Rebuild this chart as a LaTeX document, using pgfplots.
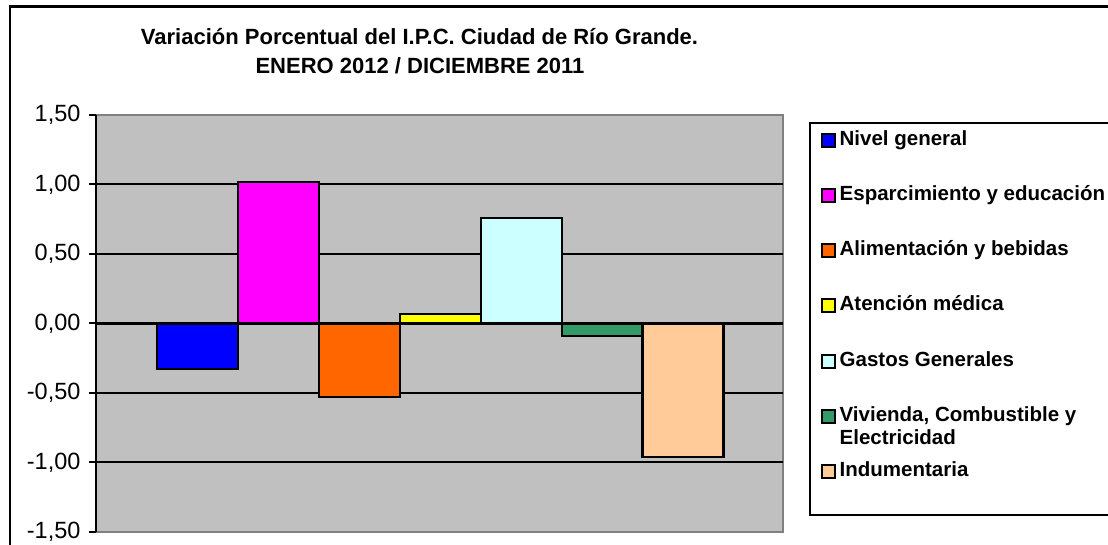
\documentclass[border=0pt]{standalone}
\usepackage{fontspec}
\setmainfont{Liberation Sans}
\usepackage{pgfplots}
\pgfplotsset{compat=1.18}
\definecolor{plotgray}{HTML}{C0C0C0}
\definecolor{edgegray}{HTML}{808080}
\definecolor{cA}{HTML}{0000FF}
\definecolor{cB}{HTML}{FF00FF}
\definecolor{cC}{HTML}{FF6600}
\definecolor{cD}{HTML}{FFFF00}
\definecolor{cE}{HTML}{CCFFFF}
\definecolor{cF}{HTML}{339966}
\definecolor{cG}{HTML}{FFCC99}
\pgfplotsset{
  mybar/.style={ybar, bar width=1, draw=black, line width=2.2bp,
    legend image code/.code={\draw[##1, draw=black, line width=2bp] (0bp,-6.5bp) rectangle (13bp,6.5bp);}},
}
\begin{document}
\begin{tikzpicture}
\useasboundingbox (0,0) rectangle (1108bp,545bp);
\clip (0,0) rectangle (1108bp,545bp);
\fill[white] (0,0) rectangle (1108bp,545bp);
\draw[line width=2.5bp] (10bp,538.5bp) rectangle (1200bp,-50bp);
\node[font=\bfseries\fontsize{22bp}{26bp}\selectfont, anchor=base] at (419.5bp,500bp) {Variación Porcentual del I.P.C. Ciudad de Río Grande.};
\node[font=\bfseries\fontsize{22bp}{26bp}\selectfont, anchor=base] at (420bp,471bp) {ENERO 2012 / DICIEMBRE 2011};
\draw[line width=2.2bp] (810bp,421.7bp) rectangle (1200bp,30.3bp);
\begin{axis}[
  at={(96bp,13bp)}, anchor=south west, scale only axis,
  width=687bp, height=417bp,
  xmin=-0.253, xmax=8.235, ymin=-1.5, ymax=1.5,
  axis x line=none, axis y line*=left,
  y axis line style={black, line width=2.2bp},
  axis background/.style={fill=plotgray, draw=edgegray, line width=2.2bp},
  ytick={-1.5,-1,-0.5,0,0.5,1,1.5},
  tick align=outside, major tick length=7bp,
  ytick style={black, line width=2bp},
  /pgf/number format/assume math mode=true,
  yticklabel style={/pgf/number format/.cd, fixed, fixed zerofill, precision=2, use comma, /tikz/.cd, font=\fontsize{23.5bp}{27bp}\selectfont, xshift=-5bp},
  extra y ticks={-1,-0.5,0.5,1},
  extra y tick labels={},
  extra y tick style={grid=major, major grid style={black, line width=2bp}},
  legend cell align=left,
  legend style={at={(axis description cs:1.0553,0.964)}, anchor=north west, draw=none, fill=none,
    inner sep=0pt, row sep=35.2bp, column sep=3.5bp,
    nodes={inner sep=0pt, text height=15bp, text depth=5bp},
    font=\bfseries\fontsize{20.5bp}{23bp}\selectfont},
]
\addplot[mybar, fill=cA] coordinates {(1,-0.33)};
\addlegendentry{Nivel general}
\addplot[mybar, fill=cB] coordinates {(2,1.02)};
\addlegendentry{Esparcimiento y educación}
\addplot[mybar, fill=cC] coordinates {(3,-0.53)};
\addlegendentry{Alimentación y bebidas}
\addplot[mybar, fill=cD] coordinates {(4,0.07)};
\addlegendentry{Atención médica}
\addplot[mybar, fill=cE] coordinates {(5,0.76)};
\addlegendentry{Gastos Generales}
\addplot[mybar, fill=cF] coordinates {(6,-0.09)};
\addlegendentry{{\begin{tabular}[t]{@{}l@{}}Vivienda, Combustible y\\Electricidad\end{tabular}}}
\addplot[mybar, fill=cG] coordinates {(7,-0.96)};
\addlegendentry{Indumentaria}
\addplot[black, line width=2.5bp, forget plot] coordinates {(-0.253,0) (8.235,0)};
\end{axis}
\end{tikzpicture}
\end{document}
